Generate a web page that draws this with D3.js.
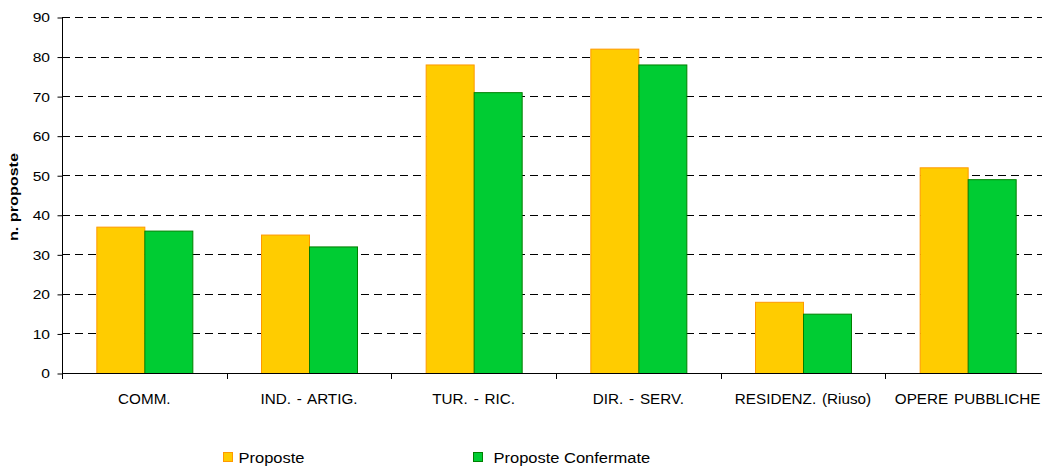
<!DOCTYPE html>
<html><head><meta charset="utf-8">
<script src="https://cdn.jsdelivr.net/npm/d3@7"></script>
<style>body{margin:0;background:#fff;} svg{display:block;font-family:"Liberation Sans",Arial,sans-serif;}</style>
</head><body>
<svg id="c" width="1042" height="466"></svg>
<script>
const categories = ["COMM.", "IND. - ARTIG.", "TUR. - RIC.", "DIR. - SERV.", "RESIDENZ. (Riuso)", "OPERE PUBBLICHE"];
const seriesNames = ["Proposte", "Proposte Confermate"];
const proposte = [37, 35, 78, 82, 18, 52];
const confermate = [36, 32, 71, 78, 15, 49];
const yTicks = [0, 10, 20, 30, 40, 50, 60, 70, 80, 90];
const fills = ["#FFCC00", "#00CC33"];
const strokes = ["#FF9900", "#008000"];

const svg = d3.select("#c");
const m = {left: 62, top: 17, right: 1050, bottom: 373};
const x = d3.scaleBand().domain(categories).range([m.left, m.right]).paddingInner(0).paddingOuter(0);
const y = d3.scaleLinear().domain([0, 90]).range([m.bottom, m.top]);
const groupW = 96;
const xs = d3.scaleBand().domain(seriesNames).range([0, groupW]).padding(0);

// gridlines
svg.append("g").selectAll("line").data(yTicks.filter(d => d > 0)).join("line")
  .attr("x1", m.left).attr("x2", 1042)
  .attr("y1", d => Math.round(y(d)) + 0.5).attr("y2", d => Math.round(y(d)) + 0.5)
  .attr("stroke", "#000").attr("stroke-dasharray", "8,5").attr("stroke-width", 1);

// bars
const data = [proposte, confermate];
const gBars = svg.append("g");
categories.forEach((c, i) => {
  seriesNames.forEach((s, j) => {
    const v = data[j][i];
    gBars.append("rect")
      .attr("x", x(c) + (x.bandwidth() - groupW) / 2 + xs(s) + 0.5)
      .attr("y", y(v) + 0.5)
      .attr("width", xs.bandwidth())
      .attr("height", y(0) - y(v))
      .attr("fill", fills[j]).attr("stroke", strokes[j]).attr("stroke-width", 1);
  });
});

// y axis
const yAxis = d3.axisLeft(y).tickValues(yTicks).tickSize(5).tickPadding(8);
const gy = svg.append("g").attr("transform", `translate(${m.left + 0.5},0.5)`).call(yAxis);
gy.select(".domain").attr("stroke", "#000").attr("d", `M0,${m.top}V${m.bottom}`);
gy.selectAll(".tick line").attr("stroke", "#000");
gy.selectAll("text").attr("font-size", 13).attr("fill", "#000")
  .attr("font-family", "Liberation Sans, Arial, sans-serif")
  .attr("x", 0).attr("dy", "0.34em")
  .attr("transform", "translate(-12.5,0) scale(1.2,1)");

// x axis
const xAxis = d3.axisBottom(x).tickSize(0).tickPadding(0);
const gx = svg.append("g").attr("transform", `translate(0,${m.bottom + 0.5})`).call(xAxis);
gx.select(".domain").attr("stroke", "#000").attr("d", `M${m.left},0H1042`);
gx.selectAll("text").attr("font-size", 14).attr("fill", "#000")
  .attr("font-family", "Liberation Sans, Arial, sans-serif")
  .attr("y", 0).attr("dy", null).attr("word-spacing", 1.5)
  .attr("transform", "translate(0,30) scale(1.09,1)");
// category separator ticks
const bounds = categories.map(c => x(c));
svg.append("g").selectAll("line").data(bounds).join("line")
  .attr("x1", d => Math.round(d) + 0.5).attr("x2", d => Math.round(d) + 0.5)
  .attr("y1", m.bottom).attr("y2", m.bottom + 6).attr("stroke", "#000");

// y label
svg.append("text").attr("transform", `translate(17.5,${(m.top + m.bottom) / 2 + 2}) rotate(-90)`)
  .attr("text-anchor", "middle").attr("font-size", 12).attr("font-weight", "bold")
  .attr("textLength", 88).attr("lengthAdjust", "spacingAndGlyphs").text("n. proposte");

// legend
const legX = [223, 473];
seriesNames.forEach((s, j) => {
  svg.append("rect").attr("x", legX[j] + 0.5).attr("y", 452.5).attr("width", 9).attr("height", 9)
    .attr("fill", fills[j]).attr("stroke", strokes[j]);
  svg.append("text")
    .attr("transform", `translate(${legX[j] + (j === 0 ? 15.5 : 20.5)},462.5) scale(1.1,1)`)
    .attr("font-size", 15).attr("fill", "#000").text(s);
});
</script>
</body></html>
